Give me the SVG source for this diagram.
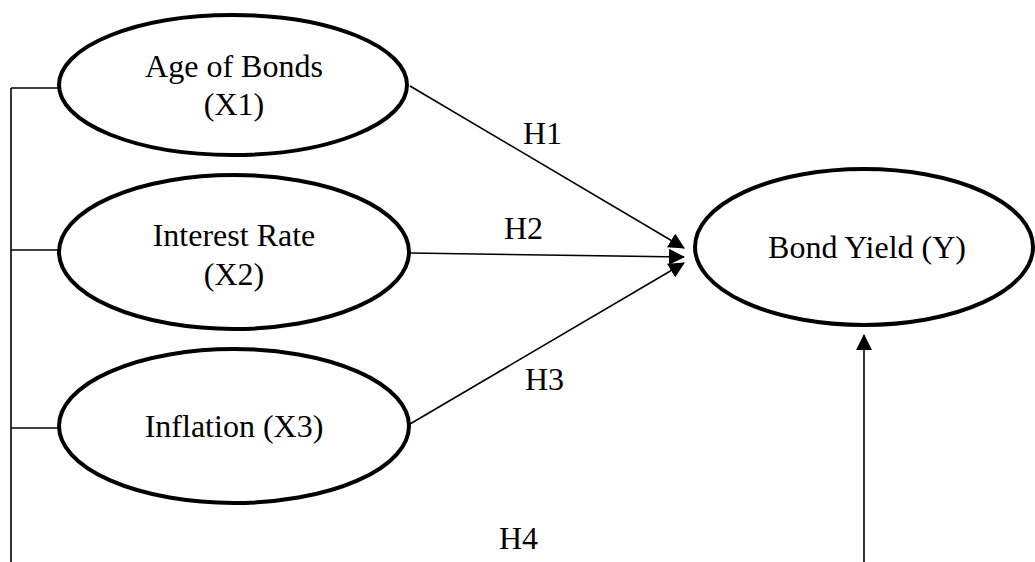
<svg xmlns="http://www.w3.org/2000/svg" width="1035" height="562" viewBox="0 0 1035 562">
<style>
.node{fill:#fff;stroke:#000;stroke-width:4}
.t{font-family:"Liberation Serif","Times New Roman",serif;font-size:32px;fill:#000}
.c{text-anchor:middle}
.ln{stroke:#000;stroke-width:1.6;fill:none}
</style>
<defs>
<marker id="ah" markerUnits="userSpaceOnUse" markerWidth="16" markerHeight="16" refX="15" refY="8" orient="auto" viewBox="0 0 16 16">
<path d="M0,0 L16,8 L0,16 z" fill="#000"/>
</marker>
</defs>
<g id="connectors">
<path class="ln" d="M11,88 L11,562"/>
<path class="ln" d="M11,88 L59,88"/>
<path class="ln" d="M11,250 L59,250"/>
<path class="ln" d="M11,428 L59,428"/>
<path class="ln" d="M410,86 L684,248" marker-end="url(#ah)"/>
<path class="ln" d="M410,253 L684,257" marker-end="url(#ah)"/>
<path class="ln" d="M410,424 L684,263" marker-end="url(#ah)"/>
<path class="ln" d="M864,562 L864,335" marker-end="url(#ah)"/>
<text class="t" x="523" y="144">H1</text>
<text class="t" x="504" y="239">H2</text>
<text class="t" x="525" y="390">H3</text>
<text class="t" x="499" y="549">H4</text>
</g>
<g id="x1">
<ellipse class="node" cx="233" cy="85" rx="174" ry="70"/>
<text class="t c" x="234" y="77">Age of Bonds</text>
<text class="t c" x="234" y="115">(X1)</text>
</g>
<g id="x2">
<ellipse class="node" cx="234" cy="252" rx="175" ry="77"/>
<text class="t c" x="234" y="246">Interest Rate</text>
<text class="t c" x="234" y="285">(X2)</text>
</g>
<g id="x3">
<ellipse class="node" cx="234" cy="426" rx="175" ry="77"/>
<text class="t c" x="234" y="437">Inflation (X3)</text>
</g>
<g id="y">
<ellipse class="node" cx="864" cy="247" rx="169" ry="78"/>
<text class="t c" x="867" y="258">Bond Yield (Y)</text>
</g>
</svg>
